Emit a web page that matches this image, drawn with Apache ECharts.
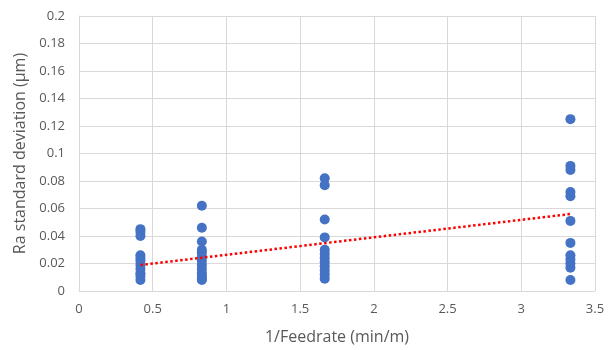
<!DOCTYPE html>
<html>
<head>
<meta charset="utf-8">
<script src="https://cdn.jsdelivr.net/npm/echarts@6/dist/echarts.min.js"></script>
<style>
  html, body { margin: 0; padding: 0; background: #fff; }
  #chart { width: 614px; height: 350px; }
</style>
</head>
<body>
<div id="chart"></div>
<script>
// Inverse feedrate levels (min/m)
const feedInv = [0.4167, 0.8333, 1.6667, 3.3333];

// Ra standard deviation (µm) measured at each level
const raAt0417 = [0.045, 0.043, 0.040, 0.026, 0.024, 0.022, 0.019, 0.016, 0.013, 0.011, 0.008];
const raAt0833 = [0.062, 0.046, 0.036, 0.030, 0.028, 0.025, 0.022, 0.019, 0.016, 0.013, 0.011, 0.009, 0.008];
const raAt1667 = [0.082, 0.077, 0.052, 0.039, 0.030, 0.027, 0.024, 0.021, 0.018, 0.015, 0.012, 0.009];
const raAt3333 = [0.125, 0.091, 0.088, 0.072, 0.069, 0.051, 0.035, 0.026, 0.023, 0.020, 0.017, 0.008];

// Linear trendline end points [x, y]
const trendX = [0.4167, 3.3333];
const trendY = [0.0189, 0.0560];

const groups = [raAt0417, raAt0833, raAt1667, raAt3333];
const points = [];
groups.forEach((vals, i) => vals.forEach(v => points.push([feedInv[i], v])));
const trend = trendX.map((x, i) => [x, trendY[i]]);

const axisText = { color: '#595959', fontSize: 13, fontFamily: 'Open Sans, Liberation Sans, sans-serif' };
const gridLine = { lineStyle: { color: '#d9d9d9', width: 1 } };

const chart = echarts.init(document.getElementById('chart'));
chart.setOption({
  animation: false,
  grid: { left: 79, right: 19, top: 16, bottom: 56 },
  xAxis: {
    type: 'value', min: 0, max: 3.5, interval: 0.5,
    name: '1/Feedrate (min/m)', nameLocation: 'middle', nameGap: 38,
    nameTextStyle: Object.assign({}, axisText, { fontSize: 16 }),
    axisLine: { show: true, lineStyle: { color: '#d9d9d9' } },
    axisTick: { show: false },
    axisLabel: Object.assign({ margin: 12 }, axisText),
    splitLine: gridLine
  },
  yAxis: {
    type: 'value', min: 0, max: 0.2, interval: 0.02,
    name: 'Ra standard deviation (µm)', nameLocation: 'middle', nameGap: 49,
    nameTextStyle: Object.assign({}, axisText, { fontSize: 16 }),
    axisLine: { show: true, lineStyle: { color: '#d9d9d9' } },
    axisTick: { show: false },
    axisLabel: Object.assign({ margin: 14 }, axisText),
    splitLine: gridLine
  },
  series: [
    {
      type: 'scatter',
      data: points,
      symbolSize: 10,
      itemStyle: { color: '#4472C4', opacity: 1 }
    },
    {
      type: 'line',
      data: trend,
      symbol: 'none',
      lineStyle: { color: '#FF0000', width: 2.5, type: [2.5, 2.5] },
      z: 3
    }
  ]
});
</script>
</body>
</html>
